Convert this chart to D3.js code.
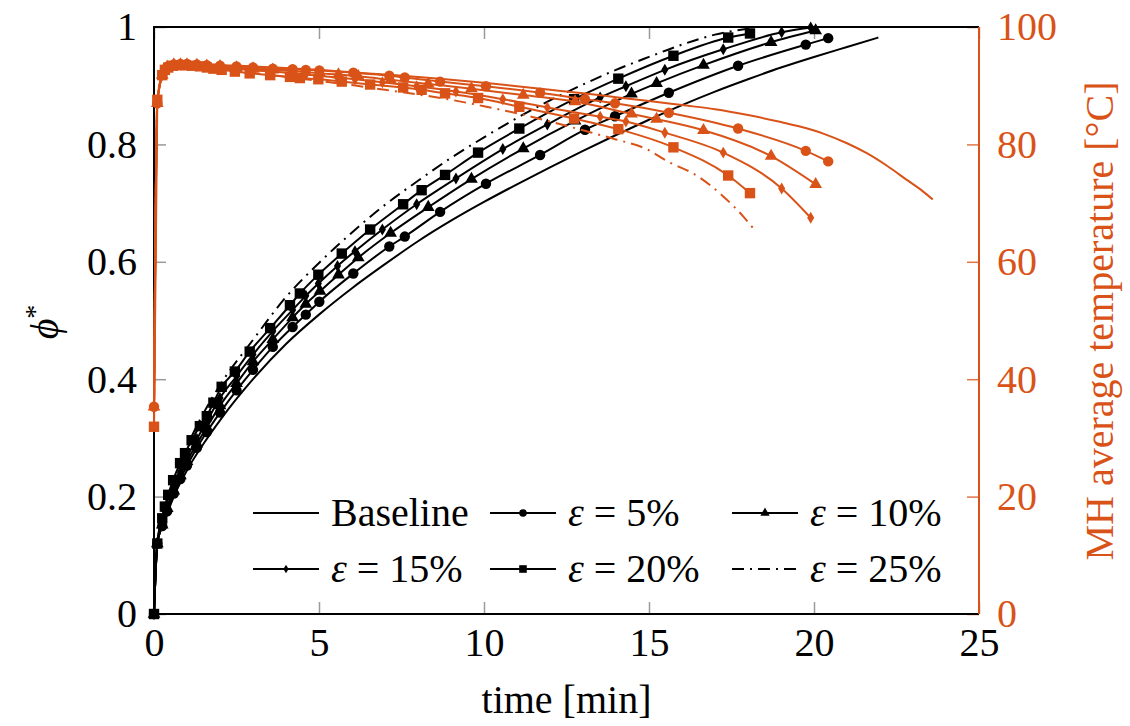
<!DOCTYPE html>
<html>
<head>
<meta charset="utf-8">
<script src="https://cdn.jsdelivr.net/npm/d3@7"></script>
<style>
  body { margin: 0; background: #fff; }
</style>
</head>
<body>
<svg id="chart" width="1130" height="726" font-family="'Liberation Serif', 'DejaVu Serif', serif"></svg>
<script>
// Axis ticks
const timeTicks = [0, 5, 10, 15, 20, 25];
const phiTicks = [0, 0.2, 0.4, 0.6, 0.8, 1];
const tempTicks = [0, 20, 40, 60, 80, 100];

// Baseline (no porosity change)
const baseTimePhi = [0, 0.1, 0.3, 0.6, 1, 1.5, 2, 3, 4, 5, 6, 7, 8, 9, 10, 11, 12, 13, 14, 15, 16, 17, 18, 19, 20, 21, 21.95];
const basePhi = [0, 0.12, 0.155, 0.2, 0.245, 0.29, 0.33, 0.40, 0.46, 0.51, 0.555, 0.596, 0.635, 0.670, 0.702, 0.732, 0.761, 0.789, 0.816, 0.842, 0.867, 0.89, 0.911, 0.931, 0.949, 0.966, 0.982];
const baseTimeTemp = [0, 0.1, 0.25, 0.4, 0.6, 1, 1.5, 2, 3, 4, 5, 6, 7, 8, 9, 10, 11, 12, 13, 14, 15, 16, 17, 18, 19, 19.6, 20.3, 21, 21.6, 22.2, 22.8, 23.3, 23.6];
const baseTemp = [35.3, 87, 91.8, 93.2, 93.6, 93.7, 93.6, 93.5, 93.3, 93.0, 92.7, 92.3, 91.9, 91.5, 91.0, 90.5, 89.9, 89.3, 88.7, 88.05, 87.4, 86.7, 86.0, 85.0, 83.8, 83.0, 81.8, 80.2, 78.5, 76.4, 74.0, 72.0, 70.6];

// epsilon = 5 %
const eps5Time = [0, 0.1, 0.25, 0.4, 0.6, 0.8, 1.0, 1.3, 1.6, 2.0, 2.5, 3.0, 3.6, 4.2, 4.6, 5.01, 6.04, 7.13, 7.6, 8.67, 10.06, 11.7, 13.06, 13.97, 15.6, 17.7, 19.75, 20.43];
const eps5Phi = [0, 0.12, 0.15, 0.175, 0.205, 0.23, 0.253, 0.283, 0.31, 0.343, 0.381, 0.416, 0.455, 0.489, 0.51, 0.532, 0.580, 0.626, 0.643, 0.685, 0.733, 0.782, 0.825, 0.848, 0.888, 0.934, 0.970, 0.981];
const eps5Temp = [35.3, 87, 91.8, 93.2, 93.6, 93.7, 93.7, 93.6, 93.5, 93.4, 93.3, 93.1, 92.9, 92.8, 92.7, 92.6, 92.2, 91.7, 91.4, 90.7, 89.9, 88.8, 87.7, 87.0, 85.4, 82.7, 78.9, 77.1];

// epsilon = 10 %
const eps10Time = [0, 0.1, 0.25, 0.4, 0.6, 0.8, 1.0, 1.3, 1.6, 2.0, 2.5, 3.0, 3.6, 4.2, 4.6, 5.03, 5.59, 6.19, 7.17, 8.31, 9.62, 11.19, 12.76, 14.47, 15.23, 16.65, 18.7, 20.05];
const eps10Phi = [0, 0.12, 0.152, 0.18, 0.21, 0.236, 0.26, 0.29, 0.318, 0.355, 0.393, 0.43, 0.468, 0.505, 0.528, 0.550, 0.578, 0.607, 0.649, 0.693, 0.741, 0.793, 0.840, 0.886, 0.904, 0.935, 0.974, 0.994];
const eps10Temp = [35.3, 87, 91.8, 93.2, 93.6, 93.6, 93.6, 93.5, 93.4, 93.3, 93.1, 92.9, 92.7, 92.5, 92.3, 92.1, 91.9, 91.6, 91.0, 90.3, 89.5, 88.4, 87.3, 85.2, 84.3, 82.4, 78.0, 73.2];

// epsilon = 15 %
const eps15Time = [0, 0.1, 0.25, 0.4, 0.6, 0.8, 1.0, 1.3, 1.6, 2.0, 2.5, 3.0, 3.6, 4.2, 4.6, 4.98, 5.56, 6.09, 6.92, 7.96, 9.15, 10.57, 11.92, 13.52, 14.3, 15.48, 17.25, 19.02, 19.9];
const eps15Phi = [0, 0.12, 0.155, 0.183, 0.215, 0.242, 0.267, 0.298, 0.328, 0.368, 0.405, 0.442, 0.482, 0.518, 0.542, 0.563, 0.593, 0.618, 0.655, 0.698, 0.742, 0.792, 0.834, 0.880, 0.899, 0.927, 0.962, 0.991, 0.999];
const eps15Temp = [35.3, 87, 91.8, 93.2, 93.6, 93.6, 93.5, 93.4, 93.3, 93.1, 92.9, 92.6, 92.4, 92.1, 91.9, 91.7, 91.4, 91.1, 90.6, 89.9, 89.0, 87.7, 86.3, 84.7, 83.9, 82.0, 78.6, 72.5, 67.5];

// epsilon = 20 %
const eps20Time = [0, 0.1, 0.25, 0.33, 0.43, 0.58, 0.79, 0.94, 1.14, 1.39, 1.6, 1.8, 2.05, 2.45, 2.9, 3.52, 4.12, 4.42, 4.98, 5.69, 6.55, 7.55, 8.11, 8.82, 9.82, 11.07, 12.73, 14.07, 15.74, 17.4, 18.06];
const eps20Phi = [0, 0.12, 0.163, 0.183, 0.203, 0.228, 0.257, 0.274, 0.296, 0.32, 0.337, 0.36, 0.387, 0.413, 0.447, 0.487, 0.526, 0.546, 0.578, 0.614, 0.655, 0.698, 0.722, 0.748, 0.786, 0.827, 0.877, 0.912, 0.951, 0.982, 0.989];
const eps20Temp = [31.9, 87.6, 91.8, 92.7, 93.1, 93.4, 93.5, 93.5, 93.4, 93.3, 93.1, 92.9, 92.7, 92.4, 92.1, 91.8, 91.5, 91.3, 91.1, 90.7, 90.2, 89.7, 89.3, 88.7, 87.9, 86.4, 84.4, 82.6, 79.5, 74.7, 71.7];

// epsilon = 25 %
const eps25TimePhi = [0, 0.1, 0.3, 0.6, 1, 1.5, 2, 3, 4, 5, 6, 7, 8, 9, 10, 11, 12, 13, 14, 15, 16, 17, 18.1];
const eps25Phi = [0, 0.12, 0.175, 0.228, 0.285, 0.342, 0.39, 0.467, 0.54, 0.598, 0.65, 0.697, 0.738, 0.777, 0.812, 0.845, 0.875, 0.902, 0.927, 0.949, 0.97, 0.987, 0.998];
const eps25TimeTemp = [0, 0.1, 0.3, 0.6, 1, 1.5, 2, 3, 4, 5, 6, 7, 8, 9, 10, 11, 12, 13, 13.9, 15, 15.5, 16.5, 17.2, 17.86, 18.16];
const eps25Temp = [32, 87.6, 92.5, 93.3, 93.4, 93.2, 92.9, 92.2, 91.5, 90.8, 90.1, 89.3, 88.5, 87.6, 86.5, 85.3, 83.9, 82.4, 81.0, 79.0, 77.3, 74.5, 71.4, 67.7, 65.7];

const orange = "#D95319";
const serifStack = "'Liberation Serif', 'DejaVu Serif', serif";

const series = [
  { label: "Baseline", mark: null, dash: null,
    phiT: baseTimePhi, phi: basePhi, tempT: baseTimeTemp, temp: baseTemp },
  { label: "5%", mark: "circle", dash: null,
    phiT: eps5Time, phi: eps5Phi, tempT: eps5Time, temp: eps5Temp },
  { label: "10%", mark: "triangle", dash: null,
    phiT: eps10Time, phi: eps10Phi, tempT: eps10Time, temp: eps10Temp },
  { label: "15%", mark: "diamond", dash: null,
    phiT: eps15Time, phi: eps15Phi, tempT: eps15Time, temp: eps15Temp },
  { label: "20%", mark: "square", dash: null,
    phiT: eps20Time, phi: eps20Phi, tempT: eps20Time, temp: eps20Temp },
  { label: "25%", mark: null, dash: "12,6,2,6",
    phiT: eps25TimePhi, phi: eps25Phi, tempT: eps25TimeTemp, temp: eps25Temp }
];

const svg = d3.select("#chart");
const W = 1130, H = 726;
const L = 154, R = 979, T = 27, B = 614;

const x = d3.scaleLinear().domain([0, 25]).range([L, R]);
const yPhi = d3.scaleLinear().domain([0, 1]).range([B, T]);
const yTemp = d3.scaleLinear().domain([0, 100]).range([B, T]);

svg.append("rect").attr("width", W).attr("height", H).attr("fill", "#fff");

svg.append("defs").append("clipPath").attr("id", "plotClip")
  .append("rect").attr("x", L - 8).attr("y", T - 8).attr("width", R - L + 16).attr("height", B - T + 16);

// Marker shapes
function markerPath(kind, s) {
  if (kind === "circle") return d3.symbol(d3.symbolCircle, Math.PI * s * s)();
  if (kind === "square") return d3.symbol(d3.symbolSquare, (2 * s) * (2 * s))();
  if (kind === "triangle") return d3.symbol(d3.symbolTriangle, 2.6 * s * s)();
  if (kind === "diamond") {
    const w = s * 0.68, h = s * 1.15;
    return `M0,${-h}L${w},0L0,${h}L${-w},0Z`;
  }
  return null;
}

// Ticks (inward)
const tickLen = 12;
const tickColor = "#9a9a9a";
const fontSize = 40;

const gLeft = svg.append("g").attr("transform", `translate(${L},0)`)
  .call(d3.axisLeft(yPhi).tickValues(phiTicks).tickSize(-tickLen).tickPadding(17)
    .tickFormat(d => d === 0 || d === 1 ? String(d) : d3.format(".1f")(d)));
const gBottom = svg.append("g").attr("transform", `translate(0,${B})`)
  .call(d3.axisBottom(x).tickValues(timeTicks).tickSize(-tickLen).tickPadding(14));
const gTop = svg.append("g").attr("transform", `translate(0,${T})`)
  .call(d3.axisTop(x).tickValues(timeTicks).tickSize(-tickLen).tickFormat(""));
const gRight = svg.append("g").attr("transform", `translate(${R},0)`)
  .call(d3.axisRight(yTemp).tickValues(tempTicks).tickSize(-tickLen).tickPadding(18));

[gLeft, gBottom, gTop, gRight].forEach(g => {
  g.select(".domain").remove();
  g.attr("font-family", serifStack).attr("font-size", fontSize);
  g.selectAll("text").attr("font-size", fontSize).attr("font-family", serifStack)
    .style("font-family", serifStack);
});
[gLeft, gBottom, gTop].forEach(g => g.selectAll("line").attr("stroke", tickColor).attr("stroke-width", 1.5));
gLeft.selectAll("text").attr("fill", "#000");
gBottom.selectAll("text").attr("fill", "#000");
gRight.selectAll("line").attr("stroke", orange).attr("stroke-width", 1.5).attr("opacity", 0.8);
gRight.selectAll("text").attr("fill", orange);

// Plot frame
svg.append("path").attr("d", `M${R},${T}H${L}V${B}H${R}`)
  .attr("fill", "none").attr("stroke", "#000").attr("stroke-width", 2);
svg.append("line").attr("x1", R).attr("x2", R).attr("y1", T).attr("y2", B)
  .attr("stroke", orange).attr("stroke-width", 2);

const plot = svg.append("g").attr("clip-path", "url(#plotClip)");

const curve = d3.curveMonotoneX;

function drawSeries(g, tArr, vArr, yScale, color, s) {
  const pts = tArr.map((t, i) => [t, vArr[i]]);
  g.append("path")
    .attr("d", d3.line().x(d => x(d[0])).y(d => yScale(d[1])).curve(curve)(pts))
    .attr("fill", "none").attr("stroke", color).attr("stroke-width", 2)
    .attr("stroke-dasharray", s.dash);
  if (s.mark) {
    g.selectAll(null).data(pts).enter().append("path")
      .attr("d", markerPath(s.mark, 5.2))
      .attr("transform", d => `translate(${x(d[0])},${yScale(d[1])})`)
      .attr("fill", color).attr("stroke", "none");
  }
}

// Conversion (black, left axis)
const gPhi = plot.append("g");
series.forEach(s => drawSeries(gPhi, s.phiT, s.phi, yPhi, "#000", s));
// Temperature (orange, right axis)
const gTemp = plot.append("g");
series.forEach(s => drawSeries(gTemp, s.tempT, s.temp, yTemp, orange, s));

function serifText(sel) {
  return sel.attr("font-family", serifStack).style("font-family", serifStack);
}

// Axis titles
serifText(svg.append("text")).attr("x", (L + R) / 2).attr("y", 713).attr("text-anchor", "middle")
  .attr("font-size", fontSize).text("time [min]");

const yl = serifText(svg.append("text")).attr("transform", "translate(58,322) rotate(-90)")
  .attr("text-anchor", "middle").attr("font-size", fontSize);
yl.append("tspan").attr("font-style", "italic").text("ϕ");
yl.append("tspan").attr("dy", -14).attr("font-size", 28).text("*");

serifText(svg.append("text")).attr("transform", "translate(1113,321) rotate(-90)")
  .attr("text-anchor", "middle").attr("font-size", fontSize).attr("fill", orange)
  .text("MH average temperature [°C]");

// Legend: 3 columns x 2 rows
const legCols = [253, 490, 732];
const legRows = [513, 569];
const legLine = 66;
const leg = svg.append("g");
series.forEach((s, i) => {
  const cx = legCols[i % 3], cy = legRows[Math.floor(i / 3)];
  leg.append("line").attr("x1", cx).attr("x2", cx + legLine).attr("y1", cy).attr("y2", cy)
    .attr("stroke", "#000").attr("stroke-width", 2).attr("stroke-dasharray", s.dash);
  if (s.mark) {
    leg.append("path").attr("d", markerPath(s.mark, 3.8))
      .attr("transform", `translate(${cx + legLine / 2},${cy})`).attr("fill", "#000");
  }
  const t = serifText(leg.append("text")).attr("x", cx + legLine + 12).attr("y", cy + 13)
    .attr("font-size", fontSize);
  if (s.label === "Baseline") {
    t.text("Baseline");
  } else {
    t.append("tspan").attr("font-style", "italic").text("ε");
    t.append("tspan").text(" = " + s.label);
  }
});
</script>
</body>
</html>
